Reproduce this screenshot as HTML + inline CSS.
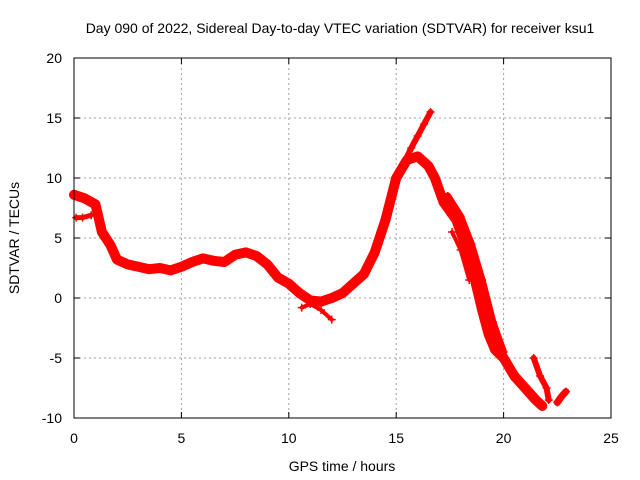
<!DOCTYPE html>
<html><head><meta charset="utf-8"><style>
body{margin:0;background:#fff;}
svg{display:block;font-family:"Liberation Sans",sans-serif;}
</style></head><body>
<svg id="c" width="640" height="480">
<rect width="640" height="480" fill="#fff"/>
<text x="340" y="33" font-size="14" text-anchor="middle">Day 090 of 2022, Sidereal Day-to-day VTEC variation (SDTVAR) for receiver ksu1</text>
<text x="342" y="471" font-size="14" text-anchor="middle">GPS time / hours</text>
<text x="19" y="238" font-size="14" text-anchor="middle" transform="rotate(-90 19 238)">SDTVAR / TECUs</text>
<g id="grid"></g><g id="ticks"></g><g id="data"></g>
<rect x="74" y="58" width="537" height="360" fill="none" stroke="#000"/>
</svg>
<script>
const xTicks=[0,5,10,15,20,25];
const yTicks=[-10,-5,0,5,10,15,20];
const mainT=[0,0.5,1,1.3,1.7,2,2.5,3,3.5,4,4.5,5,5.5,6,6.5,7,7.5,8,8.5,9,9.5,10,10.5,11,11.5,12,12.5,13,13.5,14,14.5,15,15.5,16,16.5,16.8,17.2,17.8,18.3,18.6,19,19.3,19.6,20,20.5,21,21.5,21.8];
const mainV=[8.6,8.3,7.8,5.5,4.4,3.2,2.8,2.6,2.4,2.5,2.3,2.6,3,3.3,3.1,3,3.6,3.8,3.5,2.8,1.7,1.2,0.4,-0.2,-0.3,0,0.4,1.2,2,3.8,6.5,10,11.5,11.8,11,10,8,6.5,4,2,-1,-3,-4.3,-5,-6.5,-7.5,-8.5,-9];
const upT=[15.3,15.7,16,16.3,16.6];
const upV=[11,12.5,13.5,14.5,15.5];
const midT=[0.1,0.4,0.8];
const midV=[6.7,6.7,6.9];
const b2T=[17.4,18,18.5,19,19.5,20];
const b2V=[8.5,6.8,4.5,1.5,-2,-4.5];
const b3T=[17.6,18,18.4];
const b3V=[5.5,4,1.5];
const b4T=[21.4,21.7,22,22.1];
const b4V=[-5,-6.5,-7.5,-8.5];
const b5T=[22.5,22.7,22.9];
const b5V=[-8.7,-8.2,-7.8];
const b6T=[10.6,11,11.5,12];
const b6V=[-0.8,-0.5,-1,-1.8];
const sx=v=>74+v*537/25, sy=v=>58+(20-v)*12;
const NS='http://www.w3.org/2000/svg';
const g=document.getElementById('grid'),tk=document.getElementById('ticks'),d=document.getElementById('data');
function mk(tag,at,par){const e=document.createElementNS(NS,tag);for(const k in at)e.setAttribute(k,at[k]);par.appendChild(e);return e;}
xTicks.forEach(t=>{const x=sx(t);
 if(t>0&&t<25){const l=mk('line',{x1:x,x2:x,y1:58,y2:418,stroke:'#a0a0a0','stroke-dasharray':'2,3'},g);
 
 }
 mk('line',{x1:x,x2:x,y1:418,y2:412,stroke:'#000'},tk);mk('line',{x1:x,x2:x,y1:58,y2:64,stroke:'#000'},tk);
 const tx=mk('text',{x:x,y:443,'font-size':14,'text-anchor':'middle'},tk);tx.textContent=t;
 
 });
yTicks.forEach(t=>{const y=sy(t);
 if(t>-10&&t<20){const l=mk('line',{x1:74,x2:611,y1:y,y2:y,stroke:'#a0a0a0','stroke-dasharray':'2,3'},g);
 
 }
 mk('line',{x1:74,x2:80,y1:y,y2:y,stroke:'#000'},tk);mk('line',{x1:611,x2:605,y1:y,y2:y,stroke:'#000'},tk);
 const tx=mk('text',{x:62,y:y+5,'font-size':14,'text-anchor':'end'},tk);tx.textContent=t;
 
 });
function series(T,V,name,w){
 const pts=T.map((t,i)=>sx(t)+','+sy(V[i])).join(' ');
 const p=mk('polyline',{points:pts,fill:'none',stroke:'#f00','stroke-width':w,'stroke-linejoin':'round','stroke-linecap':'round'},d);
 
 
 T.forEach((t,i)=>{const x=sx(t),y=sy(V[i]);
  mk('path',{d:`M${x-4},${y}h8M${x},${y-4}v8`,stroke:'#f00','stroke-width':1.5},d);});
}
series(mainT,mainV,'sdtvar-main-trace',10);
series(upT,upV,'sdtvar-peak-branch',6);
series(midT,midV,'sdtvar-early-branch',5);
series(b2T,b2V,'sdtvar-decline-branch',7);
series(b3T,b3V,'sdtvar-decline-branch-2',4);
series(b4T,b4V,'sdtvar-late-branch',6);
series(b5T,b5V,'sdtvar-end-branch',7);
series(b6T,b6V,'sdtvar-noon-branch',4);
</script>
</body></html>
